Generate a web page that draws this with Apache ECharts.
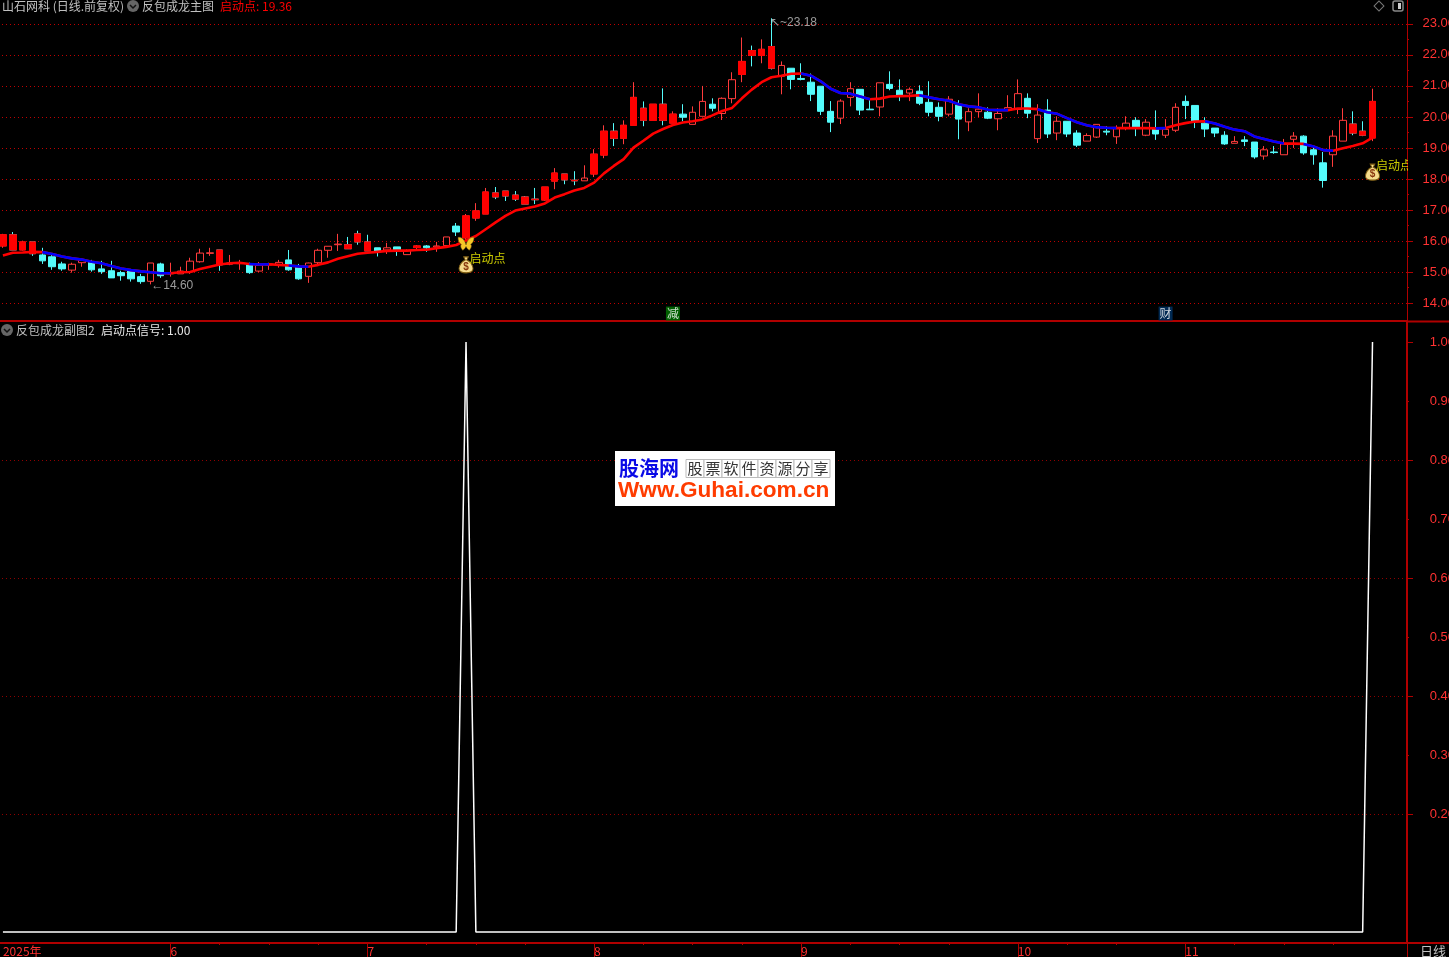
<!DOCTYPE html>
<html>
<head>
<meta charset="utf-8">
<title>反包成龙</title>
<style>
  html, body { margin: 0; padding: 0; background: #000; overflow: hidden; }
  #chart { width: 1449px; height: 957px; }
</style>
<script src="https://cdn.jsdelivr.net/npm/echarts@6/dist/echarts.min.js"></script>
</head>
<body>
<div id="chart"></div>
<script>
// 日K: [开, 收, 低, 高]
const candles = [
  [15.84,16.20,15.78,16.23],[16.20,15.71,15.71,16.29],[15.71,15.97,15.69,16.01],[15.97,15.59,15.52,15.97],[15.55,15.36,15.26,15.78],
  [15.49,15.17,15.07,15.55],[15.26,15.10,15.04,15.33],[15.06,15.25,14.98,15.30],[15.30,15.37,15.17,15.43],[15.33,15.07,15.01,15.39],
  [15.10,15.01,14.94,15.36],[15.04,14.81,14.81,15.36],[14.98,14.88,14.72,15.04],[15.03,14.78,14.69,15.07],[14.85,14.69,14.62,14.94],
  [14.70,15.29,14.60,15.29],[15.26,14.88,14.81,15.30],[14.94,14.97,14.85,15.30],[14.94,15.03,14.94,15.17],[15.01,15.35,14.94,15.46],
  [15.33,15.61,15.30,15.75],[15.60,15.62,15.52,15.78],[15.71,15.23,15.04,15.71],[15.25,15.29,15.22,15.55],[15.27,15.30,15.07,15.39],
  [15.23,14.98,14.94,15.30],[15.03,15.21,15.00,15.32],[15.23,15.26,15.07,15.30],[15.23,15.31,15.14,15.39],[15.39,15.07,15.04,15.71],
  [15.17,14.78,14.75,15.26],[14.86,15.29,14.65,15.30],[15.30,15.70,15.23,15.75],[15.70,15.83,15.46,15.83],[15.88,15.90,15.68,16.23],
  [15.88,15.75,15.75,16.13],[16.23,15.97,15.88,16.33],[15.97,15.68,15.68,16.20],[15.78,15.65,15.50,15.78],[15.71,15.78,15.58,15.94],
  [15.81,15.71,15.52,15.81],[15.56,15.69,15.56,15.73],[15.79,15.84,15.71,15.87],[15.84,15.78,15.65,15.87],[15.81,15.84,15.65,15.97],
  [15.85,16.13,15.82,16.13],[16.48,16.29,16.16,16.58],[16.10,16.81,16.03,16.87],[16.74,16.97,16.65,17.22],[16.87,17.58,16.87,17.71],
  [17.55,17.42,17.35,17.74],[17.61,17.45,17.29,17.61],[17.48,17.35,17.29,17.61],[17.42,17.19,17.19,17.45],[17.35,17.33,17.19,17.71],
  [17.32,17.74,17.29,17.74],[17.93,18.19,17.67,18.35],[18.16,17.97,17.83,18.16],[17.96,17.94,17.80,18.25],[17.94,18.03,17.94,18.44],
  [18.16,18.80,18.06,18.96],[18.77,19.54,18.67,19.73],[19.54,19.31,19.06,19.80],[19.31,19.73,19.12,19.89],[19.73,20.63,19.73,21.12],
  [20.28,19.89,19.70,20.50],[19.89,20.41,19.89,20.41],[20.41,19.89,19.73,20.92],[19.80,20.09,19.80,20.18],[20.09,19.99,19.86,20.41],
  [19.76,20.15,19.76,20.34],[20.02,20.50,20.02,21.00],[20.41,20.28,20.18,20.60],[20.11,20.60,19.90,20.63],[20.59,21.20,20.44,21.44],
  [21.37,21.79,21.12,22.56],[22.14,21.98,21.63,22.30],[21.98,22.18,21.73,22.50],[22.27,21.57,21.53,23.18],[21.31,21.66,20.73,21.79],
  [21.57,21.21,20.89,21.57],[21.24,21.21,21.18,21.73],[21.12,20.73,20.51,21.40],[20.99,20.18,20.06,20.99],[20.18,19.83,19.51,20.51],
  [19.96,20.51,19.77,20.57],[20.63,20.91,20.34,21.12],[20.89,20.22,20.06,20.89],[20.25,20.23,20.23,20.56],[20.32,21.10,20.02,21.10],
  [21.05,20.92,20.86,21.47],[20.86,20.70,20.51,21.21],[20.77,20.89,20.51,20.95],[20.83,20.44,20.38,21.02],[20.47,20.15,20.02,21.15],
  [20.31,20.02,19.86,20.47],[20.09,20.57,20.02,20.67],[20.38,19.93,19.28,20.54],[19.84,20.17,19.54,20.28],[20.17,20.25,19.99,20.76],
  [20.15,19.96,19.93,20.31],[19.94,20.11,19.57,20.28],[20.22,20.30,20.19,20.70],[20.24,20.75,20.09,21.21],[20.60,20.12,19.96,20.76],
  [19.30,20.06,19.16,20.41],[20.22,19.45,19.32,20.57],[19.48,19.86,19.25,20.02],[19.86,19.45,19.35,19.86],[19.48,19.09,19.03,19.57],
  [19.22,19.40,19.22,19.47],[19.35,19.76,19.32,19.76],[19.54,19.51,19.41,19.70],[19.36,19.66,19.13,19.73],[19.66,19.80,19.57,20.02],
  [19.89,19.67,19.38,19.99],[19.41,19.83,19.38,19.93],[19.61,19.45,19.26,20.21],[19.41,19.60,19.32,19.93],[19.57,20.31,19.51,20.44],
  [20.50,20.37,19.93,20.69],[20.37,19.86,19.64,20.37],[19.80,19.61,19.35,19.99],[19.64,19.48,19.35,19.64],[19.41,19.13,19.10,19.54],
  [19.15,19.21,19.15,19.38],[19.26,19.21,19.06,19.38],[19.19,18.71,18.65,19.19],[18.74,18.94,18.62,19.06],[18.87,18.85,18.81,19.06],
  [18.78,19.13,18.78,19.29],[19.28,19.38,19.00,19.51],[19.38,18.84,18.78,19.41],[18.94,18.78,18.46,19.06],[18.52,17.95,17.72,18.87],
  [18.78,19.38,18.39,19.57],[19.22,19.89,19.22,20.28],[19.77,19.48,19.41,20.18],[19.54,19.41,19.38,19.86],[19.32,20.50,19.22,20.91]
];
// 实心红柱所在的K线序号
const solidBars = [0,1,2,3,22,35,36,37,42,47,48,49,50,51,52,53,54,55,56,57,58,60,61,62,63,64,65,66,67,68,75,76,77,78,137,138,139];
// 主图均线
const maLine = [
  15.53,15.62,15.63,15.65,15.64,15.58,15.50,15.44,15.40,15.33,15.28,15.19,15.11,15.06,15.02,14.99,14.96,14.96,14.99,15.00,
  15.10,15.17,15.24,15.28,15.30,15.26,15.24,15.25,15.23,15.21,15.18,15.17,15.23,15.31,15.43,15.51,15.59,15.62,15.65,15.68,
  15.69,15.69,15.71,15.72,15.77,15.81,15.87,16.02,16.16,16.38,16.60,16.81,16.98,17.05,17.11,17.21,17.40,17.51,17.63,17.71,
  17.88,18.18,18.42,18.64,19.01,19.23,19.46,19.61,19.74,19.82,19.86,19.92,20.05,20.19,20.29,20.60,20.88,21.12,21.28,21.33,
  21.39,21.40,21.33,21.15,20.91,20.77,20.75,20.66,20.57,20.59,20.66,20.67,20.68,20.70,20.63,20.57,20.52,20.41,20.34,20.31,
  20.23,20.22,20.22,20.27,20.27,20.25,20.15,20.10,19.96,19.83,19.73,19.67,19.65,19.64,19.64,19.64,19.64,19.63,19.64,19.73,
  19.80,19.85,19.86,19.79,19.68,19.59,19.54,19.37,19.29,19.21,19.14,19.14,19.13,19.05,18.93,18.91,18.99,19.06,19.15,19.33
];
// 均线画成蓝色的K线区间
const blueRuns = [[4,17],[25,27],[29,31],[81,88],[93,102],[105,113],[117,118],[122,130],[132,135]];
// 副图 启动点信号
const signal = [
  0,0,0,0,0,0,0,0,0,0,0,0,0,0,0,0,0,0,0,0,0,0,0,0,0,0,0,0,0,0,0,0,0,0,0,0,0,0,0,0,
  0,0,0,0,0,0,0,1,0,0,0,0,0,0,0,0,0,0,0,0,0,0,0,0,0,0,0,0,0,0,0,0,0,0,0,0,0,0,0,0,
  0,0,0,0,0,0,0,0,0,0,0,0,0,0,0,0,0,0,0,0,0,0,0,0,0,0,0,0,0,0,0,0,0,0,0,0,0,0,0,0,
  0,0,0,0,0,0,0,0,0,0,0,0,0,0,0,0,0,0,0,1
];
const signalBars = [47, 139];
const bagPrice = [15.23, 18.22];
const butterflyPrice = [15.91];
const extremes = [[15, 14.60, '←14.60', [0, 1]], [78, 23.18, '↖~23.18', [-2, 4]]];
const eventBars = [[68, '减', '#007700'], [118, '财', '#003366']];
const eventPrice = 13.66;
const monthBars = [0, 17, 37, 60, 81, 103, 120];
const monthLabels = ['2025年', '6', '7', '8', '9', '10', '11'];
const weekBars = [22,27,32,43,48,53,65,70,75,86,91,96,108,113,125,130,135];
const priceTicks = [14,15,16,17,18,19,20,21,22,23];
const priceHalfTicks = [14.5,15.5,16.5,17.5,18.5,19.5,20.5,21.5,22.5];
const subLabels = [0.2,0.3,0.4,0.5,0.6,0.7,0.8,0.9,1.0];
const subGridTicks = [0.2,0.4,0.6,0.8];
const subShortTicks = [0.3,0.5,0.7,0.9];
const BLANK_BARS = 3;

const RED = '#ff3232';
const DARK_RED = '#b00000';
const CYAN = '#54fcfc';
const GRAY = '#c0c0c0';
const FONT = '"Noto Sans CJK SC", sans-serif';

const categories = [];
for (let i = 0; i < candles.length + BLANK_BARS; i++) {
  const m = monthBars.indexOf(i);
  categories.push(m >= 0 ? monthLabels[m] : '');
}

const blueLine = maLine.map((v, i) => blueRuns.some(r => i >= r[0] && i <= r[1]) ? v : null);
const solidData = solidBars.map(i => {
  const c = candles[i];
  return [i, c[0], c[1], Math.min(c[0], c[1]), Math.max(c[0], c[1])];
});

// 只画刻度用的辅助y轴
function tickAxis(gridIndex, min, max, values, length) {
  return {
    type: 'value', gridIndex, min, max, position: 'right',
    axisLine: { show: false },
    axisLabel: { show: false },
    splitLine: { show: false },
    axisTick: { show: true, customValues: values, length, lineStyle: { color: DARK_RED } }
  };
}

const PRICE_MIN = 13.42, PRICE_MAX = 23.77;
const SUB_MIN = -0.0186, SUB_MAX = 1.0339;
// 只是用来挂文字的散点
const hiddenPoint = { symbol: 'rect', symbolSize: 1, itemStyle: { color: 'rgba(0,0,0,0)' } };

// 左上角文字、水印等
function txt(x, y, text, fill, extra) {
  return { type: 'text', x, y, silent: true, style: Object.assign({ text, fill, font: '12px ' + FONT, textVerticalAlign: 'middle' }, extra || {}) };
}
function arrowIcon(cx, cy) {
  return [
    { type: 'circle', silent: true, shape: { cx, cy, r: 6 }, style: { fill: '#666' } },
    { type: 'polyline', silent: true, shape: { points: [[cx - 3, cy - 1], [cx, cy + 2], [cx + 3, cy - 1]] }, style: { stroke: '#111', fill: 'none', lineWidth: 1.5 } }
  ];
}
function hline(x1, y1, x2, y2, w) {
  return { type: 'line', silent: true, shape: { x1, y1, x2, y2 }, style: { stroke: DARK_RED, lineWidth: w } };
}
const logoCells = ['股','票','软','件','资','源','分','享'];
const graphics = [
  txt(2, 6, '山石网科 (日线.前复权)', GRAY),
  ...arrowIcon(133, 6),
  txt(142, 6, '反包成龙主图', GRAY),
  txt(220, 6, '启动点: 19.36', '#ff0000'),
  { type: 'rect', silent: true, rotation: Math.PI / 4, x: 1379, y: 6, shape: { x: -3.5, y: -3.5, width: 7, height: 7 }, style: { fill: 'none', stroke: '#777' } },
  { type: 'rect', silent: true, shape: { x: 1393, y: 1, width: 10, height: 10, r: 2 }, style: { fill: '#000', stroke: '#888', lineWidth: 1.5 } },
  { type: 'rect', silent: true, shape: { x: 1398, y: 3, width: 3, height: 6 }, style: { fill: '#ccc' } },
  ...arrowIcon(7, 330),
  txt(16, 330, '反包成龙副图2', GRAY),
  txt(101, 330, '启动点信号: 1.00', '#e8e8e8'),
  hline(1407, 321.5, 1449, 321.5, 2),
  hline(1407, 943, 1449, 943, 2),
  hline(1407.5, 943, 1407.5, 957, 1),
  txt(1420, 951, '日线', GRAY, { font: '13px ' + FONT }),
  // 启动点文字在坐标轴处被截断
  { type: 'rect', silent: true, z: 20, shape: { x: 1408, y: 157, width: 12, height: 16 }, style: { fill: '#000' } },
  // 水印
  { type: 'rect', silent: true, z: 30, shape: { x: 615, y: 451, width: 220, height: 55 }, style: { fill: '#fff' } },
  { type: 'text', silent: true, z: 31, x: 619, y: 468, style: { text: '股海网', fill: '#0a0ae6', font: 'bold 20px ' + FONT, textVerticalAlign: 'middle' } },
  ...logoCells.flatMap((c, i) => [
    { type: 'rect', silent: true, z: 31, shape: { x: 686 + i * 18, y: 459.5, width: 18, height: 18 }, style: { fill: '#fff', stroke: '#bbb' } },
    { type: 'text', silent: true, z: 32, x: 695 + i * 18, y: 468.5, style: { text: c, fill: '#333', font: '15px ' + FONT, textAlign: 'center', textVerticalAlign: 'middle' } }
  ]),
  { type: 'text', silent: true, z: 31, x: 618, y: 491, style: { text: 'Www.Guhai.com.cn', fill: '#ff3c00', font: 'bold 22.6px "Liberation Sans"', textVerticalAlign: 'middle' } }
];

const chart = echarts.init(document.getElementById('chart'));
chart.setOption({
  animation: false,
  backgroundColor: '#000',
  grid: [
    { left: -2, width: 1409, top: 0, height: 321, outerBoundsMode: 'none' },
    { left: -2, width: 1409, top: 322, height: 621, outerBoundsMode: 'none' }
  ],
  xAxis: [
    {
      type: 'category', gridIndex: 0, data: categories, boundaryGap: true,
      axisLine: { onZero: false, lineStyle: { color: DARK_RED, width: 2 } },
      axisTick: { show: false }, axisLabel: { show: false }, splitLine: { show: false }
    },
    {
      type: 'category', gridIndex: 1, data: categories, boundaryGap: true,
      axisLine: { onZero: false, lineStyle: { color: DARK_RED, width: 2 } },
      axisTick: { show: true, alignWithLabel: true, length: 14, interval: (i, v) => v !== '' && i > 0, lineStyle: { color: DARK_RED } },
      axisLabel: { show: true, interval: (i, v) => v !== '', color: RED, align: 'left', margin: 2, fontSize: 12, fontFamily: FONT },
      splitLine: { show: false }
    },
    {
      type: 'category', gridIndex: 1, data: categories, boundaryGap: true, position: 'bottom',
      axisLine: { show: false, onZero: false },
      axisTick: { show: true, alignWithLabel: true, length: 2, interval: i => weekBars.includes(i), lineStyle: { color: DARK_RED } },
      axisLabel: { show: false }, splitLine: { show: false }
    }
  ],
  yAxis: [
    {
      type: 'value', gridIndex: 0, min: PRICE_MIN, max: PRICE_MAX, position: 'right',
      axisLine: { show: true, onZero: false, lineStyle: { color: DARK_RED, width: 1 } },
      axisTick: { show: true, customValues: priceTicks, length: 6, lineStyle: { color: DARK_RED } },
      axisLabel: { show: true, customValues: priceTicks, color: RED, align: 'right', margin: 48, fontSize: 13, fontFamily: '"Liberation Sans"', formatter: v => v.toFixed(2) },
      splitLine: { show: true, lineStyle: { color: '#c00000', type: [1, 3], width: 1 } }
    },
    tickAxis(0, PRICE_MIN, PRICE_MAX, priceHalfTicks, 2),
    {
      type: 'value', gridIndex: 1, min: SUB_MIN, max: SUB_MAX, position: 'right',
      axisLine: { show: true, onZero: false, lineStyle: { color: DARK_RED, width: 2 } },
      axisTick: { show: true, customValues: subGridTicks, length: 6, lineStyle: { color: DARK_RED } },
      axisLabel: { show: true, customValues: subLabels, color: RED, align: 'right', margin: 48, fontSize: 13, fontFamily: '"Liberation Sans"', formatter: v => v.toFixed(2) },
      splitLine: { show: true, lineStyle: { color: '#900000', type: [1, 3], width: 1 } }
    },
    tickAxis(1, SUB_MIN, SUB_MAX, subShortTicks, 2),
    tickAxis(1, SUB_MIN, SUB_MAX, [1.0], 6)
  ],
  series: [
    {
      name: 'K线', type: 'candlestick', xAxisIndex: 0, yAxisIndex: 0, barWidth: 7, z: 2,
      data: candles,
      itemStyle: { color: '#000', color0: CYAN, borderColor: '#ff3c3c', borderColor0: CYAN, borderWidth: 1 }
    },
    {
      name: '实心柱', type: 'candlestick', xAxisIndex: 0, yAxisIndex: 0, barWidth: 7, z: 3,
      data: solidData, encode: { x: 0, y: [1, 2, 3, 4] },
      itemStyle: { color: '#ff0000', color0: '#ff0000', borderColor: '#ff0000', borderColor0: '#ff0000', borderWidth: 1 }
    },
    {
      name: '均线', type: 'line', xAxisIndex: 0, yAxisIndex: 0, data: maLine, z: 4,
      showSymbol: false, lineStyle: { color: '#ff0000', width: 2.6 }
    },
    {
      name: '均线下行', type: 'line', xAxisIndex: 0, yAxisIndex: 0, data: blueLine, z: 5,
      showSymbol: false, connectNulls: false, lineStyle: { color: '#0000ff', width: 2.6 }
    },
    {
      name: '钱袋', type: 'scatter', xAxisIndex: 0, yAxisIndex: 0, z: 6,
      data: signalBars.map((b, i) => [b, bagPrice[i]]),
      symbol: 'path://M7 0 L13 0 L11 4 C16 6 19 11 19 15 C19 19 15 20 10 20 C5 20 1 19 1 15 C1 11 4 6 9 4 Z',
      symbolSize: [14, 16],
      itemStyle: { color: '#f6dc8c', borderColor: '#7a5a10', borderWidth: 1, opacity: 1 },
      label: { show: true, position: 'inside', formatter: '$', color: '#8a3a10', fontSize: 10, fontWeight: 'bold', fontFamily: '"Liberation Sans"', offset: [0, 2] }
    },
    Object.assign({
      name: '启动点', type: 'scatter', xAxisIndex: 0, yAxisIndex: 0, z: 7,
      data: signalBars.map((b, i) => [b, bagPrice[i]]),
      label: { show: true, position: [4, -12], formatter: '启动点', color: '#ffff00', fontSize: 12, fontFamily: FONT }
    }, hiddenPoint),
    {
      name: '蝴蝶', type: 'scatter', xAxisIndex: 0, yAxisIndex: 0, z: 6,
      data: [[signalBars[0], butterflyPrice[0]]],
      symbol: 'path://M12 11 C10 3 4 0 0 1 C0 5 2 9 5 10 C3 12 4 15 7 18 C9 17 11 15 12 13 C13 15 15 17 17 18 C20 15 21 12 19 10 C22 9 24 5 24 1 C20 0 14 3 12 11 Z',
      symbolSize: [16, 13],
      itemStyle: { color: '#f5c828', borderColor: '#7a5a10', borderWidth: 0.5, opacity: 1 }
    },
    Object.assign({
      name: '高低点', type: 'scatter', xAxisIndex: 0, yAxisIndex: 0, z: 7,
      data: extremes.map(e => ({ value: [e[0], e[1]], name: e[2], label: { offset: e[3] } })),
      label: { show: true, position: 'right', distance: 0, formatter: '{b}', color: GRAY, fontSize: 12, fontFamily: '"Liberation Sans"' }
    }, hiddenPoint),
    Object.assign({
      name: '事件', type: 'scatter', xAxisIndex: 0, yAxisIndex: 0, z: 7,
      data: eventBars.map(e => ({
        value: [e[0], eventPrice], name: e[1],
        label: { backgroundColor: e[2] }
      })),
      label: { show: true, position: 'inside', formatter: '{b}', color: '#fff', fontSize: 12, fontFamily: FONT, padding: [1, 1, 0, 1], lineHeight: 13 }
    }, hiddenPoint),
    {
      name: '启动点信号', type: 'line', xAxisIndex: 1, yAxisIndex: 2, data: signal, z: 4,
      showSymbol: false, lineStyle: { color: '#ffffff', width: 1.5 }
    }
  ],
  graphic: graphics
});
</script>
</body>
</html>
